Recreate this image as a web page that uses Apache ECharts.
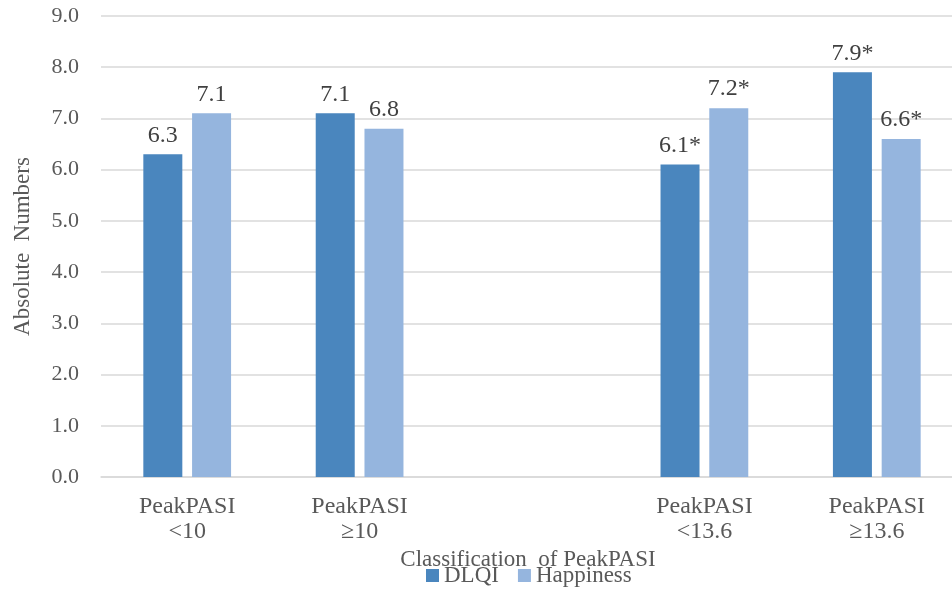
<!DOCTYPE html>
<html>
<head>
<meta charset="utf-8">
<script src="https://cdn.jsdelivr.net/npm/echarts@6/dist/echarts.min.js"></script>
<style>html,body{margin:0;padding:0;background:#fff}#c{width:952px;height:592px}</style>
</head>
<body>
<div id="c"></div>
<script>
const categories = ['PeakPASI\n<10', 'PeakPASI\n\u226510', '', 'PeakPASI\n<13.6', 'PeakPASI\n\u226513.6'];
const dlqi = [6.3, 7.1, null, 6.1, 7.9];
const happiness = [7.1, 6.8, null, 7.2, 6.6];
const dlqiLabels = ['6.3', '7.1', '', '6.1*', '7.9*'];
const happinessLabels = ['7.1', '6.8', '', '7.2*', '6.6*'];
const yTicks = [0, 1, 2, 3, 4, 5, 6, 7, 8, 9];

const font = '"Liberation Serif", "Times New Roman", serif';
const textColor = '#595959';
const chart = echarts.init(document.getElementById('c'));
chart.setOption({
  animation: false,
  textStyle: { fontFamily: font },
  grid: { left: 101, top: 16, width: 862, height: 461, containLabel: false, outerBoundsMode: 'none' },
  legend: {
    bottom: 0, left: 421,
    itemWidth: 13, itemHeight: 13, itemGap: 19,
    icon: 'rect',
    textStyle: { fontFamily: font, fontSize: 23, color: textColor },
    data: ['DLQI', 'Happiness']
  },
  xAxis: {
    type: 'category',
    data: categories,
    name: 'Classification  of PeakPASI',
    nameLocation: 'middle',
    nameGap: 53,
    nameTextStyle: { fontFamily: font, fontSize: 23, color: textColor, padding: [0, 8, 0, 0] },
    axisLine: { lineStyle: { color: '#d9d9d9', width: 1.5 } },
    axisTick: { show: false },
    axisLabel: { fontFamily: font, fontSize: 24, color: textColor, lineHeight: 25, margin: 17 }
  },
  yAxis: {
    type: 'value',
    min: 0, max: 9, interval: 1,
    name: 'Absolute  Numbers',
    nameLocation: 'middle',
    nameGap: 67,
    nameTextStyle: { fontFamily: font, fontSize: 23, color: textColor },
    axisLine: { show: false },
    axisTick: { show: false },
    splitLine: { lineStyle: { color: '#d9d9d9', width: 1.5 } },
    axisLabel: { fontFamily: font, fontSize: 22, color: textColor, margin: 22,
      formatter: v => yTicks.includes(v) ? v.toFixed(1) : '' }
  },
  series: [
    {
      name: 'DLQI', type: 'bar', data: dlqi, barWidth: 39, barGap: '25%',
      itemStyle: { color: '#4a86be' },
      label: { show: true, position: 'top', distance: 7, fontFamily: font, fontSize: 24, color: '#404040',
        formatter: p => dlqiLabels[p.dataIndex] }
    },
    {
      name: 'Happiness', type: 'bar', data: happiness, barWidth: 39,
      itemStyle: { color: '#95b5de' },
      label: { show: true, position: 'top', distance: 7, fontFamily: font, fontSize: 24, color: '#404040',
        formatter: p => happinessLabels[p.dataIndex] }
    }
  ]
});
</script>
</body>
</html>
